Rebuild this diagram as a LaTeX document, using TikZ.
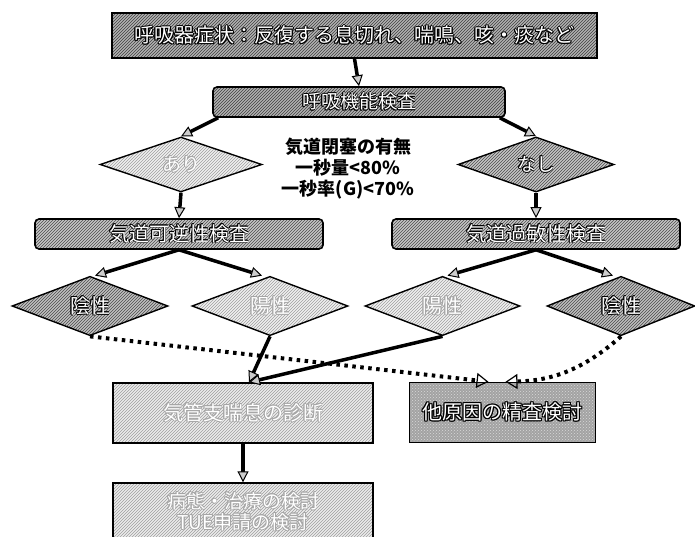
\documentclass[tikz,border=0pt]{standalone}
\usepackage{fontspec}
\setmainfont{Noto Sans CJK JP}
\usepackage{contour}
\contourlength{0.9pt}
\contournumber{8}
\usetikzlibrary{shapes.geometric,arrows.meta,patterns,calc}
\newcommand{\whtxt}[2][black]{\textcolor{white}{\contour{#1}{#2}}}
\tikzset{
  tex/.style 2 args={preaction={fill=#1}, pattern=north east lines, pattern color=#2},
  rbox/.style={draw=black, line width=1.6pt, rounded corners=4pt, inner sep=0pt},
  sbox/.style={draw=black, line width=1.4pt, inner sep=0pt},
  dia/.style={diamond, draw=black, line width=1.4pt, inner sep=0pt},
  arr/.style={line width=3.5pt, -{Triangle[line width=1pt,length=11pt,width=11pt,fill=gray!40]}},
  dotarr/.style={line width=4pt, dash pattern=on 3.5pt off 4.5pt, -{Triangle[open,line width=1.2pt,length=12pt,width=15pt]}},
  big/.style={font=\fontsize{20}{24}\selectfont},
  mid/.style={font=\fontsize{19}{21}\selectfont},
}
\begin{document}
\begin{tikzpicture}[x=1pt,y=-1pt]
\useasboundingbox[fill=white] (0,0) rectangle (695,537);
% nodes
\node[sbox, tex={gray!60}{black!75}, minimum width=485, minimum height=45, big] (top) at (354.5,35.5) {\whtxt{呼吸器症状：反復する息切れ、喘鳴、咳・痰など}};
\node[rbox, tex={gray!60}{black!75}, minimum width=292, minimum height=30, mid] (kokyu) at (359,102) {\whtxt{呼吸機能検査}};
\node[dia, tex={gray!12}{gray!75}, minimum width=162, minimum height=49, mid] (ari) at (181,164.5) {\whtxt[gray!70]{あり}};
\node[dia, tex={gray!45}{black!70}, minimum width=156, minimum height=49, mid] (nashi) at (536,164.5) {\whtxt{なし}};
\node[font=\bfseries\fontsize{18}{21}\selectfont, align=center] (cond) at (348,169) {気道閉塞の有無\\一秒量<80\%\\一秒率(G)<70\%};
\node[rbox, tex={gray!45}{black!70}, minimum width=288, minimum height=30, big] (kagyaku) at (179,234) {\whtxt{気道可逆性検査}};
\node[rbox, tex={gray!45}{black!70}, minimum width=288, minimum height=30, big] (kabin) at (536,234) {\whtxt{気道過敏性検査}};
\node[dia, tex={gray!50}{black!70}, minimum width=156, minimum height=53, big] (in1) at (90,306) {\whtxt{陰性}};
\node[dia, tex={gray!12}{gray!75}, minimum width=156, minimum height=53, big] (yo1) at (270,306) {\whtxt[gray!70]{陽性}};
\node[dia, tex={gray!12}{gray!75}, minimum width=155, minimum height=53, big] (yo2) at (442.5,306) {\whtxt[gray!70]{陽性}};
\node[dia, tex={gray!50}{black!70}, minimum width=148, minimum height=53, big] (in2) at (621,306) {\whtxt{陰性}};
\node[sbox, tex={gray!15}{gray!75}, minimum width=260, minimum height=60, big] (asthma) at (243,413) {\whtxt[gray!70]{気管支喘息の診断}};
\node[sbox, preaction={fill=gray!72}, pattern=crosshatch dots, pattern color=gray!30, minimum width=186, minimum height=60, big] (other) at (502.5,412.5) {\whtxt{他原因の精査検討}};
\node[sbox, tex={gray!15}{gray!75}, minimum width=260, minimum height=58, align=center, font=\fontsize{19}{21}\selectfont] (bottom) at (243,512) {\whtxt[gray!70]{病態・治療の検討}\\\whtxt[gray!70]{TUE申請の検討}};
% connectors
\coordinate (atip) at ($(asthma.north)+(6,0)$);
\coordinate (otip1) at ($(other.north)+(-14,0)$);
\coordinate (otip2) at ($(other.north)+(3,0)$);
\draw[arr] (top.south) -- (kokyu.north);
\draw[arr] ($(kokyu.south west)+(6,0)$) -- (ari.north);
\draw[arr] ($(kokyu.south east)+(-6,0)$) -- (nashi.north);
\draw[arr] (ari.south) -- (kagyaku.north);
\draw[arr] (nashi.south) -- (kabin.north);
\draw[arr] (kagyaku.south) -- ($(in1.north)+(5,0)$);
\draw[arr] (kagyaku.south) -- ($(yo1.north)+(-8,0)$);
\draw[arr] (kabin.south) -- ($(yo2.north)+(5,0)$);
\draw[arr] (kabin.south) -- ($(in2.north)+(-8,0)$);
\draw[dotarr] (in1.south) -- (otip1);
\draw[dotarr] (in2.south) to[bend left=20] (otip2);
\draw[arr] (yo1.south) -- (atip);
\draw[arr] (yo2.south) -- (atip);
\draw[arr] (asthma.south) -- (bottom.north);
\end{tikzpicture}
\end{document}
